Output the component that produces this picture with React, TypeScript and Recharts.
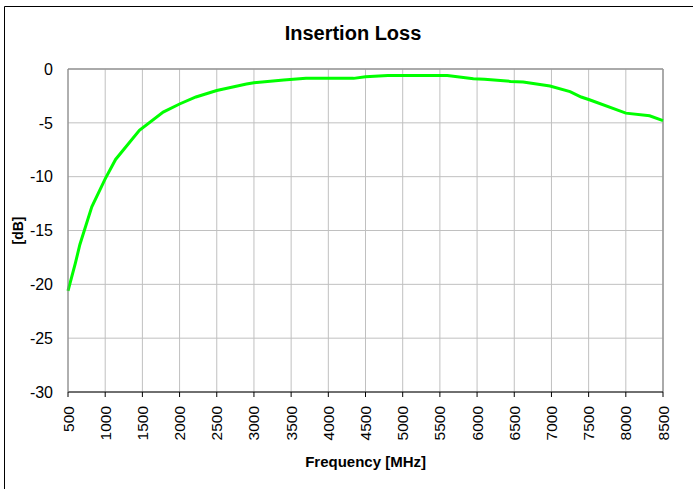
import React from 'react'
import { LineChart, Line, XAxis, YAxis, CartesianGrid, ReferenceLine } from 'recharts'

const FONT = '"Liberation Sans", Arial, sans-serif'

// frequency points [MHz]
const freqs = [500, 600, 660, 820, 1000, 1140, 1460, 1780, 2000, 2220, 2500, 2700, 2900, 3000, 3400, 3700, 4340, 4500, 4800, 5600, 5950, 6100, 6450, 6620, 6980, 7250, 7400, 7520, 8000, 8320, 8500]
// insertion loss [dB]
const loss = [-20.6, -18.0, -16.3, -12.8, -10.2, -8.4, -5.7, -4.0, -3.25, -2.6, -2.0, -1.7, -1.4, -1.27, -1.02, -0.87, -0.87, -0.73, -0.6, -0.6, -0.9, -0.95, -1.15, -1.2, -1.58, -2.1, -2.6, -2.88, -4.1, -4.35, -4.8]

const xTicks = [500, 1000, 1500, 2000, 2500, 3000, 3500, 4000, 4500, 5000, 5500, 6000, 6500, 7000, 7500, 8000, 8500]
const yTicks = [-30, -25, -20, -15, -10, -5, 0]

const data = freqs.map((f, i) => ({ freq: f, loss: loss[i] }))

function FreqTick(props: any) {
  const { x, y, payload } = props
  return (
    <text
      x={x}
      y={y}
      transform={`rotate(-90 ${x} ${y})`}
      textAnchor="end"
      dominantBaseline="central"
      fontSize={15.5}
      fontFamily={FONT}
      fill="#000"
    >
      {payload.value}
    </text>
  )
}

export default function App() {
  return (
    <div style={{ position: 'relative', width: 693, height: 489, overflow: 'hidden', background: '#fff' }}>
      <style>{'body { margin: 0; }'}</style>
      <div style={{ position: 'absolute', left: 0, top: 0 }}>
        <LineChart width={693} height={489} data={data} margin={{ top: 69, right: 30, bottom: 0, left: 0 }}>
          <CartesianGrid stroke="#c0c0c0" strokeWidth={1} />
          <XAxis
            dataKey="freq"
            type="number"
            domain={[500, 8500]}
            ticks={xTicks}
            interval={0}
            height={97}
            tickSize={5}
            tickMargin={9}
            axisLine={{ stroke: '#000' }}
            tickLine={{ stroke: '#000' }}
            tick={<FreqTick />}
          />
          <YAxis
            type="number"
            domain={[-30, 0]}
            ticks={yTicks}
            interval={0}
            width={68}
            tickSize={0}
            tickMargin={15}
            axisLine={{ stroke: '#808080' }}
            tickLine={false}
            tick={{ fill: '#000', fontSize: 16, fontFamily: FONT }}
          />
          <ReferenceLine y={0} stroke="#999" strokeWidth={1.5} />
          <ReferenceLine x={8500} stroke="#999" strokeWidth={1.5} />
          <Line
            type="linear"
            dataKey="loss"
            stroke="#00ff00"
            strokeWidth={3}
            dot={false}
            isAnimationActive={false}
          />
        </LineChart>
      </div>
      <svg width={693} height={489} style={{ position: 'absolute', left: 0, top: 0, pointerEvents: 'none', zIndex: 2 }}>
        <line x1={4.5} y1={6.5} x2={693} y2={6.5} stroke="#000" strokeWidth={1} />
        <line x1={4.5} y1={6.5} x2={4.5} y2={489} stroke="#000" strokeWidth={1} />
        <text x={353} y={40} textAnchor="middle" fontSize={20} fontWeight="bold" fontFamily={FONT} fill="#000">
          Insertion Loss
        </text>
        <text x={365.6} y={467} textAnchor="middle" fontSize={15} fontWeight="bold" fontFamily={FONT} fill="#000">
          Frequency [MHz]
        </text>
        <text x={23} y={230.5} transform="rotate(-90 23 230.5)" textAnchor="middle" fontSize={14} fontWeight="bold" fontFamily={FONT} fill="#000">
          [dB]
        </text>
      </svg>
    </div>
  )
}
